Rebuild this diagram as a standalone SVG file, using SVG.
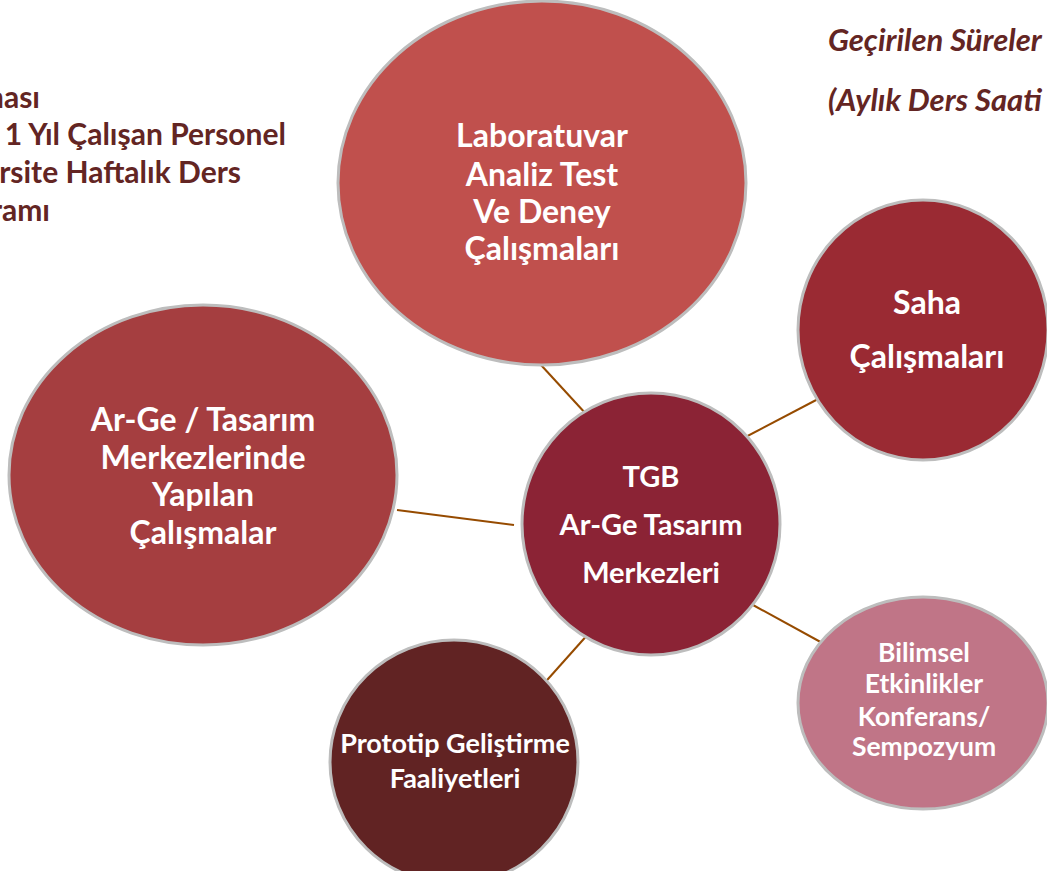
<svg xmlns="http://www.w3.org/2000/svg" width="1047" height="871" viewBox="0 0 1047 871">
<style>
.n{stroke:#BDBDBD;stroke-width:3}
.t{font-family:Lato,"Open Sans","Liberation Sans",sans-serif;font-weight:bold;fill:#fff;text-anchor:middle}
.h{font-family:Lato,"Open Sans","Liberation Sans",sans-serif;font-weight:bold;fill:#632523;font-size:30px}
.c{stroke:#964B00;stroke-width:2;fill:none}
</style>
<rect width="1047" height="871" fill="#fff"/>
<g id="header-left" class="h" text-anchor="end">
<text x="40" y="108">ması</text>
<text x="286" y="145">Az 1 Yıl Çalışan Personel</text>
<text x="241" y="183">Üniversite Haftalık Ders</text>
<text x="50" y="221">Programı</text>
</g>
<g id="header-right" class="h" font-style="italic" style="font-size:31px">
<text x="828" y="51">Geçirilen Süreler</text>
<text x="828" y="111">(Aylık Ders Saati</text>
</g>
<g id="connectors">
<line class="c" x1="541" y1="365" x2="598" y2="427"/>
<line class="c" x1="736" y1="442" x2="820" y2="398"/>
<line class="c" x1="397" y1="510" x2="514" y2="525"/>
<line class="c" x1="753" y1="605" x2="826" y2="645"/>
<line class="c" x1="598" y1="623" x2="540" y2="688"/>
</g>
<g id="lab">
<ellipse class="n" cx="542" cy="183" rx="204" ry="182" fill="#C0504D"/>
<text class="t" font-size="32"><tspan x="542" y="147">Laboratuvar</tspan><tspan x="542" y="186">Analiz Test</tspan><tspan x="542" y="223">Ve Deney</tspan><tspan x="542" y="260">Çalışmaları</tspan></text>
</g>
<g id="saha">
<ellipse class="n" cx="923" cy="330" rx="125" ry="130" fill="#9A2A33"/>
<text class="t" font-size="32"><tspan x="927" y="314">Saha</tspan><tspan x="927" y="368">Çalışmaları</tspan></text>
</g>
<g id="arge">
<ellipse class="n" cx="203" cy="475" rx="194" ry="170" fill="#A53E40"/>
<text class="t" font-size="32"><tspan x="203" y="431">Ar-Ge / Tasarım</tspan><tspan x="203" y="469">Merkezlerinde</tspan><tspan x="203" y="506">Yapılan</tspan><tspan x="203" y="544">Çalışmalar</tspan></text>
</g>
<g id="tgb">
<ellipse class="n" cx="651" cy="524" rx="129" ry="131" fill="#8B2335"/>
<text class="t" font-size="29"><tspan x="651" y="487">TGB</tspan><tspan x="651" y="535">Ar-Ge Tasarım</tspan><tspan x="651" y="583">Merkezleri</tspan></text>
</g>
<g id="prototip">
<ellipse class="n" cx="454" cy="762" rx="124" ry="122" fill="#612323"/>
<text class="t" font-size="27"><tspan x="455" y="753">Prototip Geliştirme</tspan><tspan x="455" y="788">Faaliyetleri</tspan></text>
</g>
<g id="bilimsel">
<ellipse class="n" cx="923" cy="703" rx="125" ry="106" fill="#C07587"/>
<text class="t" font-size="26.5"><tspan x="924" y="662">Bilimsel</tspan><tspan x="924" y="693">Etkinlikler</tspan><tspan x="924" y="726">Konferans/</tspan><tspan x="924" y="756">Sempozyum</tspan></text>
</g>
</svg>
